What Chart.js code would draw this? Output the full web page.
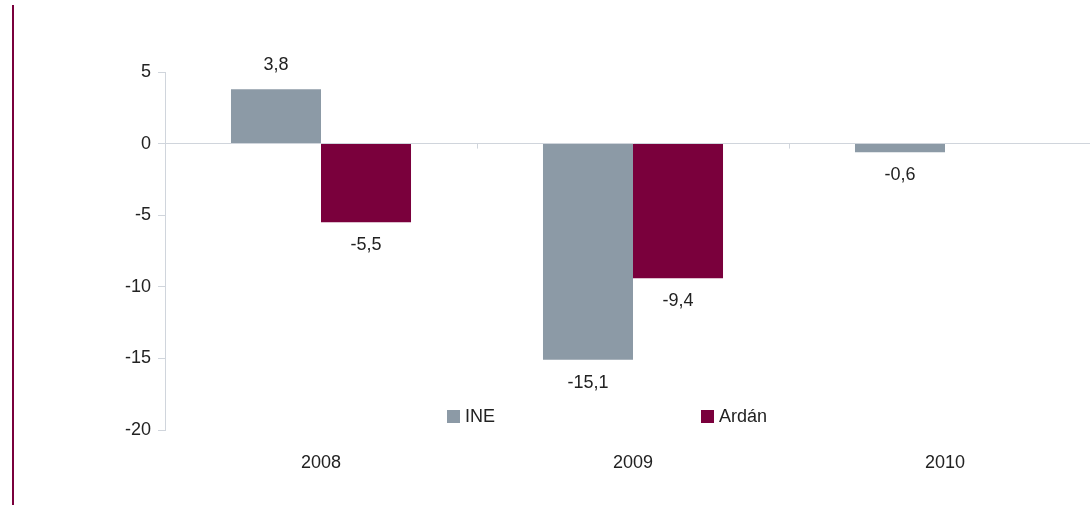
<!DOCTYPE html>
<html>
<head>
<meta charset="utf-8">
<script src="https://cdn.jsdelivr.net/npm/chart.js@4"></script>
<style>
  html, body { margin: 0; padding: 0; background: #fff; overflow: hidden; }
  #wrap { position: relative; width: 1101px; height: 508px; }
  #side-line { position: absolute; left: 12px; top: 5px; width: 2px; height: 500px; background: #7a003c; }
  .legend-item { position: absolute; top: 406px; font: 18px "Liberation Sans", Arial, sans-serif; color: #222; }
  .legend-item span.box { display: inline-block; width: 13px; height: 13px; vertical-align: -1px; margin-right: 5px; }
</style>
</head>
<body>
<div id="wrap">
  <div id="side-line"></div>
  <canvas id="chart" width="1101" height="508"></canvas>
  <div class="legend-item" style="left:447px"><span class="box" style="background:#8c9aa6"></span>INE</div>
  <div class="legend-item" style="left:701px"><span class="box" style="background:#7a003c"></span>Ardán</div>
</div>
<script>
const years = ['2008', '2009', '2010'];
const ine_values = [3.8, -15.1, -0.6];
const ardan_values = [-5.5, -9.4, null];
const y_ticks = [5, 0, -5, -10, -15, -20];

const axis_color = '#d0d5dc';
const font = { family: '"Liberation Sans", Arial, sans-serif', size: 18 };

// value labels with decimal comma, drawn beyond the end of each bar
const value_labels = {
    id: 'value_labels',
    afterDatasetsDraw(chart) {
        const ctx = chart.ctx;
        ctx.save();
        ctx.font = '18px "Liberation Sans", Arial, sans-serif';
        ctx.fillStyle = '#222';
        ctx.textAlign = 'center';
        ctx.textBaseline = 'middle';
        chart.data.datasets.forEach((ds, i) => {
            chart.getDatasetMeta(i).data.forEach((bar, j) => {
                const v = ds.data[j];
                if (v === null) return;
                const y = v >= 0 ? bar.y - 24 : bar.y + 23;
                ctx.fillText(String(v).replace('.', ','), bar.x, y);
            });
        });
        ctx.restore();
    }
};

// small category-boundary ticks hanging under the zero line
const zero_ticks = {
    id: 'zero_ticks',
    afterDraw(chart) {
        const x = chart.scales.x, y = chart.scales.y;
        const y0 = y.getPixelForValue(0);
        const ctx = chart.ctx;
        ctx.save();
        ctx.strokeStyle = axis_color;
        ctx.lineWidth = 1;
        for (let i = 1; i < years.length; i++) {
            const px = Math.round((x.getPixelForValue(i - 1) + x.getPixelForValue(i)) / 2) + 0.5;
            ctx.beginPath();
            ctx.moveTo(px, y0);
            ctx.lineTo(px, y0 + 5);
            ctx.stroke();
        }
        ctx.restore();
    }
};

new Chart(document.getElementById('chart'), {
    type: 'bar',
    data: {
        labels: years,
        datasets: [{
            label: 'INE',
            data: ine_values,
            backgroundColor: '#8c9aa6'
        }, {
            label: 'Ardán',
            data: ardan_values,
            backgroundColor: '#7a003c'
        }]
    },
    options: {
        responsive: false,
        animation: false,
        layout: { padding: { top: 72, left: 0, right: 0, bottom: 0 } },
        datasets: { bar: { barPercentage: 1, categoryPercentage: 0.577 } },
        plugins: {
            legend: { display: false },
            tooltip: { enabled: false }
        },
        scales: {
            x: {
                grid: { display: false, drawTicks: false },
                border: { display: false },
                ticks: { color: '#222', font: font, padding: 22 },
                afterFit: (scale) => { scale.height = 78; }
            },
            y: {
                min: -20,
                max: 5,
                afterBuildTicks: (scale) => { scale.ticks = y_ticks.map(v => ({ value: v })); },
                grid: {
                    color: (c) => (c.tick && c.tick.value === 0 ? axis_color : 'transparent'),
                    tickColor: axis_color,
                    tickLength: 7
                },
                border: { color: axis_color },
                ticks: { color: '#222', font: font, padding: 7 },
                afterFit: (scale) => { scale.width = 165; }
            }
        }
    },
    plugins: [value_labels, zero_ticks]
});
</script>
</body>
</html>
